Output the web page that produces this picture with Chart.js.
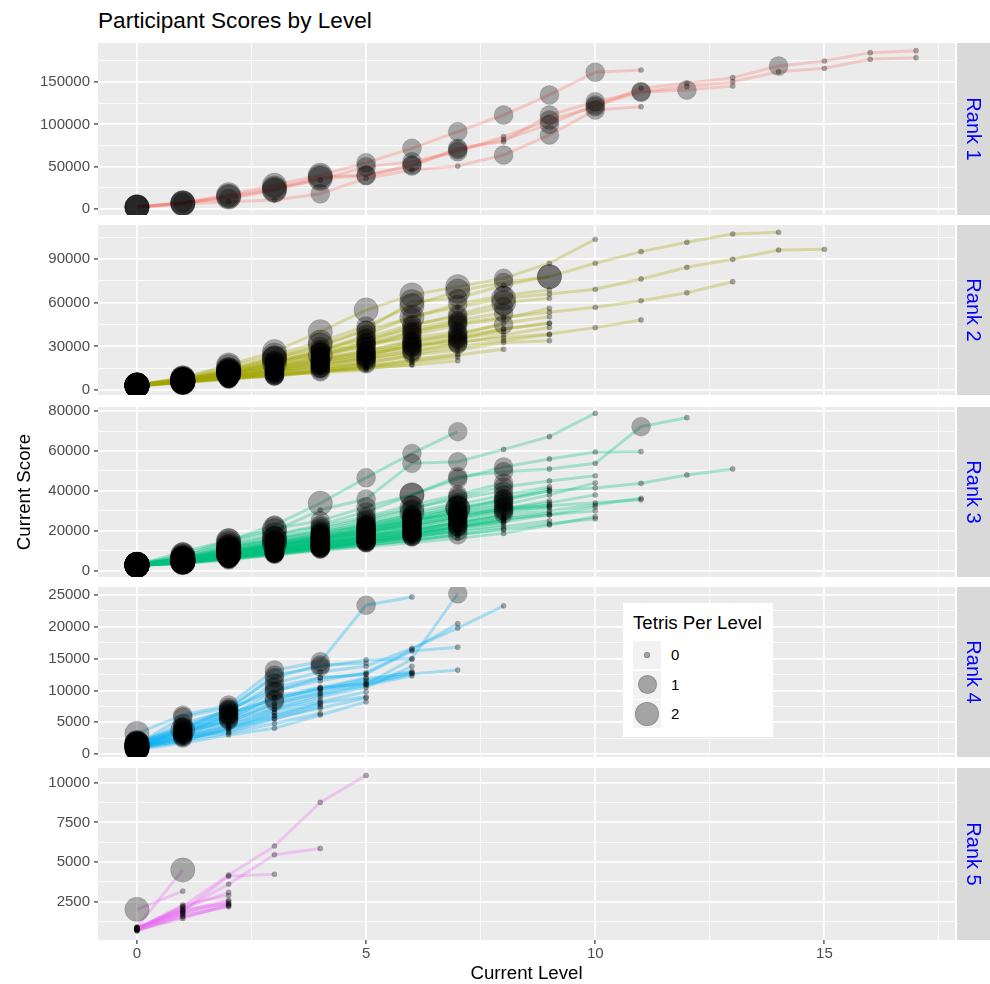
<!DOCTYPE html>
<html lang="en">
<head>
<meta charset="UTF-8">
<title>Participant Scores by Level</title>
<script src="https://cdn.jsdelivr.net/npm/chart.js"></script>
<style>
    body {
        margin: 0;
        background: #fff;
        overflow: hidden;
        font-family: "Liberation Sans", Arial, Helvetica, sans-serif;
    }
    #page { position: relative; width: 990px; height: 984px; }
    canvas { position: absolute; left: 0; }
    #title {
        position: absolute; left: 98px; top: 10px;
        font-size: 22.6px; line-height: 22.4px; color: #000;
    }
    #legend {
        position: absolute; left: 623px; top: 603px;
        width: 150px; height: 134px; background: #fff;
    }
    #legend .ltitle {
        position: absolute; left: 10px; top: 9px;
        font-size: 18.7px; line-height: 22px; color: #000;
    }
    #legend .key {
        position: absolute; left: 10px; width: 28px; height: 28px; background: #f2f2f2;
    }
    #legend .dot {
        position: absolute; border-radius: 50%;
        background: rgba(0, 0, 0, 0.32); border: 1px solid rgba(0, 0, 0, 0.15);
        box-sizing: border-box;
    }
    #legend .lab {
        position: absolute; left: 48px; font-size: 15px; line-height: 28px; color: #000;
    }
</style>
</head>
<body>
<div id="page">
    <div id="title">Participant Scores by Level</div>
    <canvas id="rank1"></canvas>
    <canvas id="rank2"></canvas>
    <canvas id="rank3"></canvas>
    <canvas id="rank4"></canvas>
    <canvas id="rank5"></canvas>
    <div id="legend"><div class="ltitle">Tetris Per Level</div></div>
</div>
<script>
// ---- data (score at each level, one row per participant) ----
const rankNames = ['Rank 1', 'Rank 2', 'Rank 3', 'Rank 4', 'Rank 5'];
const tetrisLevels = [0, 1, 2];
const xTickLabels = [0, 5, 10, 15];

const rank1Scores = [
    [2500, 7000, 17000, 28000, 40000, 54700, 71700, 91400, 111100, 134800, 161600, 164300],
    [2000, 6800, 15000, 25000, 34300, 50000, 55900, 67700, 85500, 105200, 120900, 142700, 148600, 155200, 169000, 174900, 184800, 187100],
    [2200, 7200, 14000, 23000, 38000, 40200, 50800, 71700, 79600, 111100, 126800, 138700, 144600, 150500, 162300, 166300, 176900, 178800],
    [1800, 5800, 8600, 10600, 18000, 36300, 46100, 50800, 63800, 87500, 117000, 120900],
    [2600, 7500, 12500, 22000, 36000, 39400, 52000, 70000, 82000, 100000, 123000, 138000, 140700, 145400]
];
const rank1Tetris = [
    [2, 2, 2, 2, 2, 1, 1, 1, 1, 1, 1, 0],
    [2, 2, 2, 2, 0, 1, 1, 1, 0, 1, 1, 0, 0, 0, 1, 0, 0, 0],
    [2, 1, 2, 2, 2, 1, 1, 1, 0, 1, 1, 1, 0, 0, 0, 0, 0, 0],
    [2, 2, 0, 0, 1, 0, 0, 0, 1, 1, 1, 0],
    [2, 2, 1, 2, 2, 1, 1, 1, 0, 1, 1, 1, 1, 0]
];

const rank2Scores = [
    [3400, 8300, 17200, 26400, 40100, 55000, 65400, 71100, 76800, 87200, 103700],
    [3200, 7000, 14000, 22000, 31000, 41300, 60800, 63100, 72000, 78000, 87200, 95200, 101600, 107300, 108500],
    [3000, 6500, 12000, 18400, 26000, 38000, 50400, 57000, 63100, 66000, 69300, 76400, 84400, 89900, 96300, 96800],
    [3300, 6000, 11500, 16000, 22900, 32100, 40000, 46000, 50000, 53500, 56900, 61400, 66900, 74500],
    [3100, 5700, 9000, 14000, 20000, 25000, 30000, 33000, 36000, 38500, 42900, 48200],
    [3500, 8300, 16000, 24000, 33000, 44000, 58000, 68000, 74000, 78000],
    [3200, 7500, 13500, 21000, 28000, 36000, 45000, 50400, 57300],
    [3000, 6800, 12500, 19000, 25000, 30000, 38000, 44700, 49000, 56200],
    [3300, 7000, 11000, 15500, 21000, 27000, 34000, 37800, 45900, 50400],
    [3400, 6200, 10500, 14500, 18600, 22900, 29000, 35000, 42000, 45900],
    [2900, 5700, 8300, 13000, 17000, 22000, 27000, 32000, 37800, 43000],
    [3100, 6000, 9500, 12500, 15000, 18000, 24100, 27500, 32600, 33900],
    [3000, 5500, 8300, 11000, 13000, 15000, 17200, 20200],
    [3300, 5900, 9000, 13800, 18600, 22900, 32300],
    [3400, 7000, 12000, 17000, 23000, 30000, 40000, 47000],
    [3200, 6500, 9000, 10500, 12000, 13800],
    [3000, 6000, 11000, 18400, 24000, 33000, 44000, 52000, 60000, 63100],
    [3300, 7600, 14000, 22000, 30000, 41000, 50000, 59000, 65000, 68800],
    [3100, 6800, 12500, 19000, 27000, 35000, 42000, 48000, 53000],
    [3400, 6000, 8000, 9500, 12500, 16000, 21000, 25000],
    [2800, 5200, 8000, 10000, 13500, 17500],
    [3200, 7200, 13000, 20000, 26000, 32000, 36000, 40000],
    [3100, 5400, 8000, 10800, 13500, 16500, 20000, 24000, 28000],
    [3300, 6300, 9800, 13200, 16800, 20500, 25000, 29500, 34000, 38000],
    [3000, 5800, 9200, 12200, 15200, 19000, 23000],
    [3200, 6600, 10800, 15000, 19500, 24500, 30000, 35000, 40000],
    [2900, 5300, 7800, 10200, 12800, 15800, 19000, 22500],
    [3400, 7200, 12000, 16500, 21500, 27000, 33000, 39000, 45000],
    [3100, 5600, 8600, 11800, 15000, 18500],
    [3000, 6000, 9500, 13000, 17000, 21500, 26500, 31500],
    [3300, 6800, 11000, 15500, 20500, 26000, 31500, 36500, 42000, 46000],
    [2800, 5000, 7400, 9800, 12300, 14800, 17500]
];
const rank2Tetris = [
    [2, 2, 2, 2, 2, 2, 2, 2, 1, 0, 0],
    [2, 2, 2, 2, 2, 1, 2, 1, 0, 2, 0, 0, 0, 0, 0],
    [2, 2, 2, 2, 1, 1, 1, 0, 2, 0, 0, 0, 0, 0, 0, 0],
    [2, 2, 2, 1, 1, 1, 1, 1, 0, 0, 0, 0, 0, 0],
    [2, 2, 1, 1, 1, 1, 1, 1, 0, 0, 0, 0],
    [2, 2, 2, 2, 2, 1, 2, 2, 1, 2],
    [2, 2, 2, 2, 1, 1, 1, 1, 1],
    [2, 2, 2, 1, 1, 1, 1, 1, 0, 0],
    [2, 2, 1, 1, 1, 1, 1, 1, 0, 0],
    [2, 2, 1, 1, 1, 1, 1, 1, 0, 0],
    [2, 2, 1, 1, 1, 1, 1, 1, 0, 0],
    [2, 2, 1, 1, 1, 1, 0, 0, 0, 0],
    [2, 2, 1, 1, 0, 0, 0, 0],
    [2, 2, 1, 1, 1, 1, 1],
    [2, 2, 2, 1, 1, 1, 1, 1],
    [2, 2, 1, 0, 0, 0],
    [2, 2, 2, 1, 2, 1, 1, 1, 2, 0],
    [2, 2, 2, 2, 1, 1, 2, 1, 1, 0],
    [2, 2, 2, 1, 1, 1, 1, 1, 1],
    [2, 2, 1, 1, 1, 0, 0, 0],
    [2, 2, 1, 1, 0, 0],
    [2, 2, 2, 1, 1, 1, 1, 1],
    [2, 2, 1, 1, 1, 0, 0, 0, 0],
    [2, 2, 1, 1, 1, 1, 1, 0, 0, 0],
    [2, 2, 1, 1, 1, 1, 0],
    [2, 2, 2, 1, 1, 1, 1, 1, 0],
    [2, 2, 1, 1, 0, 0, 0, 0],
    [2, 2, 2, 1, 1, 1, 1, 1, 1],
    [2, 2, 1, 1, 1, 0],
    [2, 2, 1, 1, 1, 1, 1, 1],
    [2, 2, 2, 1, 1, 1, 1, 1, 0, 0],
    [2, 2, 1, 1, 0, 0, 0]
];

const rank3Scores = [
    [2900, 9500, 15000, 22900, 33800, 46600, 58800, 69700],
    [3000, 7000, 14000, 20000, 30400, 35900, 53800, 54600, 60800, 67200, 78900],
    [2800, 6400, 12000, 17900, 22900, 29600, 37900, 47100, 49600, 51000, 53800, 72200, 76700],
    [3100, 5000, 9000, 13000, 16000, 20000, 25000, 31300, 36000, 40000, 41500, 43800, 48000, 51000],
    [2900, 8000, 15000, 21000, 25000, 32000, 38000, 46000, 52000, 56000, 59500, 59700],
    [2700, 4500, 8000, 11000, 14000, 17000, 20000, 24000, 27000, 30000, 33000, 36300],
    [3000, 5500, 10000, 14000, 18000, 22000, 26000, 28000, 31000, 32500, 34000, 35500],
    [2600, 4000, 6000, 8000, 10000, 12000, 14000, 16200, 18700, 22900, 27100],
    [3200, 6000, 11000, 16000, 20000, 25000, 31000, 37000, 42000, 45000, 47600],
    [2900, 5200, 9000, 12000, 15000, 19000, 23000, 27000, 31000, 34000, 38000],
    [2800, 4800, 8000, 11500, 14500, 18000, 22100, 26000, 30000, 33000],
    [3000, 6000, 10000, 14000, 17000, 21000, 27000, 31300, 35000, 40000],
    [2900, 5000, 8500, 12000, 16000, 20000, 24000, 29000, 33000, 38000, 44000],
    [2700, 4200, 7000, 9500, 12000, 15000, 18000, 22000, 26000, 28000, 30000],
    [3100, 5500, 9500, 14000, 18000, 23000, 28000, 33000, 38000, 42000],
    [3000, 6400, 12000, 16000, 21000, 26000, 31400, 36000, 40000],
    [2800, 4000, 7000, 10000, 13000, 16200, 20000, 24000, 28000],
    [2900, 5000, 8000, 11000, 14000, 17000, 22000, 26000, 30000, 32000],
    [2700, 4500, 7500, 10500, 13000, 16000, 19000, 22000, 25000],
    [3000, 5800, 10000, 13000, 17000, 21000, 25000, 28000, 32000],
    [2600, 3800, 6000, 8500, 11000, 13000, 15000, 18000, 21000],
    [2900, 5000, 9000, 13000, 16000, 19000, 23000, 27000],
    [2800, 4500, 7000, 9000, 11400, 14000, 17000, 20000],
    [3100, 6000, 11000, 15000, 19000, 24000, 29000, 34000],
    [2700, 4000, 6500, 9000, 12000, 14500, 17500],
    [2900, 5500, 9000, 12500, 16500, 20500, 25000],
    [3200, 7500, 13000, 18000, 22000, 27000, 33000, 38000, 44000],
    [2800, 4800, 7800, 10500, 13500, 16000],
    [2600, 3500, 5400, 7800, 11000, 13700],
    [3000, 5200, 8500, 12000, 15500, 19000, 24000, 30000, 36000, 41000],
    [2900, 6200, 11500, 15500, 19500, 23000, 28000],
    [2700, 4300, 7200, 10000, 12500, 15000, 18500, 21500, 24000],
    [2900, 4200, 6800, 9200, 11800, 14200, 17000, 19500, 22000, 25000],
    [3000, 4600, 7600, 10200, 13200, 16000, 19200, 22500, 26000],
    [2800, 3900, 6200, 8600, 10800, 13000, 15500, 17800],
    [3100, 5100, 8200, 11200, 14200, 17500, 21000, 24500, 28500, 31500],
    [2700, 4400, 6900, 9600, 12400, 15200, 18300, 21000],
    [2900, 5300, 8800, 12300, 15800, 19500, 23500],
    [3000, 3700, 5800, 8200, 10500, 12800, 15200, 18000, 20500, 23500, 26000],
    [2800, 4700, 7400, 10300, 13300, 16500, 20000, 23500, 27500],
    [3100, 5700, 9300, 13200, 17200, 21500, 26000, 30500],
    [2600, 4100, 6600, 9100, 11600, 14000, 16800, 19800, 23000],
    [2900, 4900, 7900, 11000, 14200, 17600, 21200],
    [3000, 5400, 8700, 12100, 15600, 19200, 23000, 27000, 31000, 35000],
    [2700, 3900, 6300, 8800, 11300, 13800, 16400],
    [3200, 6100, 10200, 14200, 18300, 22500, 27000, 32000],
    [2800, 4400, 7100, 9900, 12800, 15700, 18800, 22000, 25500, 29000],
    [2900, 5000, 8100, 11400, 14800, 18300],
    [3000, 4300, 6900, 9500, 12200, 15000, 18000, 21200, 24500, 28000, 32000],
    [2700, 4600, 7500, 10600, 13700, 17000, 20500, 24000],
    [3100, 5600, 9100, 12800, 16600, 20700, 25000, 29500, 34000],
    [2800, 4100, 6500, 9000, 11500, 14100, 16900, 19900]
];
const rank3Tetris = [
    [2, 1, 2, 1, 2, 1, 1, 1],
    [2, 2, 2, 2, 0, 1, 1, 1, 0, 0, 0],
    [2, 2, 2, 1, 1, 1, 2, 1, 1, 0, 0, 1, 0],
    [2, 2, 2, 1, 1, 1, 1, 2, 1, 0, 0, 0, 0, 0],
    [2, 2, 2, 2, 1, 1, 2, 1, 1, 0, 0, 0],
    [2, 2, 2, 1, 1, 1, 0, 0, 0, 0, 0, 0],
    [2, 2, 2, 1, 1, 1, 1, 0, 0, 0, 0, 0],
    [2, 1, 1, 0, 0, 0, 0, 0, 0, 0, 0],
    [2, 2, 2, 2, 1, 1, 1, 1, 1, 0, 0],
    [2, 2, 1, 1, 1, 1, 1, 1, 0, 0, 0],
    [2, 2, 2, 1, 1, 1, 1, 1, 1, 0],
    [2, 2, 2, 1, 1, 1, 1, 2, 1, 0],
    [2, 2, 2, 1, 1, 1, 1, 1, 1, 0, 0],
    [2, 1, 1, 1, 1, 1, 0, 0, 0, 0, 0],
    [2, 2, 2, 1, 1, 1, 1, 1, 1, 0],
    [2, 2, 2, 2, 1, 1, 2, 1, 1],
    [2, 2, 1, 1, 1, 0, 0, 1, 0],
    [2, 2, 2, 1, 1, 1, 1, 1, 1, 0],
    [2, 2, 1, 1, 1, 1, 1, 1, 0],
    [2, 2, 2, 1, 1, 1, 1, 1, 1],
    [2, 1, 1, 1, 0, 0, 0, 0, 0],
    [2, 2, 2, 1, 1, 1, 1, 1],
    [2, 2, 1, 1, 1, 1, 1, 1],
    [2, 2, 2, 1, 1, 1, 2, 1],
    [2, 1, 1, 1, 1, 1, 1],
    [2, 2, 2, 1, 1, 1, 1],
    [2, 2, 2, 2, 1, 1, 1, 1, 1],
    [2, 2, 1, 1, 1, 1],
    [2, 1, 1, 0, 1, 0],
    [2, 2, 2, 1, 1, 1, 1, 1, 1, 0],
    [2, 2, 2, 1, 1, 1, 1],
    [2, 2, 1, 1, 1, 1, 0, 0, 0],
    [2, 2, 1, 1, 1, 1, 1, 0, 0, 0],
    [2, 2, 2, 1, 1, 1, 1, 1, 0],
    [2, 1, 1, 1, 1, 0, 0, 0],
    [2, 2, 2, 1, 1, 1, 1, 1, 1, 0],
    [2, 2, 1, 1, 1, 1, 1, 0],
    [2, 2, 2, 1, 1, 1, 1],
    [2, 1, 1, 1, 0, 0, 0, 1, 0, 0, 0],
    [2, 2, 1, 1, 1, 1, 1, 1, 0],
    [2, 2, 2, 2, 1, 1, 1, 1],
    [2, 1, 1, 1, 1, 0, 0, 0, 0],
    [2, 2, 1, 1, 1, 1, 1],
    [2, 2, 2, 1, 1, 1, 1, 1, 1, 0],
    [2, 1, 1, 1, 1, 0, 0],
    [2, 2, 2, 2, 1, 1, 1, 1],
    [2, 2, 1, 1, 1, 1, 1, 1, 0, 0],
    [2, 2, 1, 1, 1, 1],
    [2, 1, 1, 1, 1, 1, 1, 0, 0, 0, 0],
    [2, 2, 1, 1, 1, 1, 1, 0],
    [2, 2, 2, 1, 1, 1, 1, 1, 1],
    [2, 1, 1, 1, 1, 1, 0, 0]
];

const rank4Scores = [
    [3250, 6100, 7700, 13200, 14500, 23400, 24700],
    [1700, 4300, 7000, 12400, 13700, 14800, 15000, 25200],
    [1500, 3800, 6650, 11150, 12900, 13800, 16600, 19800, 23300],
    [1200, 3500, 6000, 9800, 12000, 12600, 16200, 16800],
    [1000, 3000, 5500, 9000, 10500, 11000, 12600, 13200],
    [1300, 4000, 7000, 10000, 11500, 12800, 16400, 20500],
    [1100, 3000, 5000, 8000, 9500, 11000, 14900],
    [900, 2500, 4500, 7000, 9000, 10500, 13800],
    [800, 2000, 4000, 6000, 8000, 9000],
    [1500, 5800, 7300, 12000, 14000, 14300],
    [700, 1700, 3000, 4040, 6130, 8200],
    [1200, 3500, 5000, 7000, 8500],
    [1000, 2500, 3500, 5500, 7500],
    [900, 2200, 4000, 6500],
    [1600, 4800, 6800, 10500, 12000, 12500],
    [1400, 3200, 6200, 8800, 10200, 11800, 12800],
    [1300, 2800, 4500, 6500, 8200, 9800],
    [1600, 3600, 5600, 7800, 9800, 11500, 13000],
    [1100, 2400, 3800, 5600, 7200, 8800],
    [1800, 4200, 6400, 8600, 10400, 12000],
    [1000, 2100, 3300, 4800, 6400],
    [1500, 3400, 5300, 7400, 9300, 10800, 12300],
    [1200, 2700, 4200, 6000, 7800],
    [1700, 3900, 6000, 8300, 10200, 11200, 12700]
];
const rank4Tetris = [
    [2, 1, 1, 1, 1, 1, 0],
    [2, 1, 1, 1, 1, 0, 0, 1],
    [2, 2, 1, 1, 0, 0, 0, 0, 0],
    [2, 1, 1, 1, 0, 0, 0, 0],
    [2, 1, 1, 0, 0, 0, 0, 0],
    [2, 1, 1, 1, 0, 0, 0, 0],
    [2, 1, 0, 0, 0, 0, 0],
    [2, 1, 0, 0, 0, 0, 0],
    [2, 0, 0, 0, 0, 0],
    [2, 1, 1, 1, 1, 0],
    [2, 0, 0, 0, 0, 0],
    [2, 1, 0, 0, 0],
    [2, 0, 0, 0, 0],
    [2, 0, 0, 0],
    [2, 1, 1, 1, 0, 0],
    [2, 1, 1, 0, 0, 0, 0],
    [2, 1, 0, 0, 0, 0],
    [2, 1, 1, 0, 0, 0, 0],
    [2, 0, 0, 0, 0, 0],
    [2, 1, 1, 1, 0, 0],
    [2, 0, 0, 0, 0],
    [2, 1, 1, 0, 0, 0, 0],
    [2, 1, 0, 0, 0],
    [2, 1, 1, 1, 0, 0, 0]
];

const rank5Scores = [
    [800, 2200, 4180, 6010, 8760, 10460],
    [700, 2000, 3610, 5460, 5860],
    [2020, 3170],
    [900, 4500],
    [850, 1900, 4100, 4230],
    [800, 1800, 2500],
    [750, 1600, 2190],
    [850, 2100, 3090],
    [700, 1450, 2300],
    [800, 2000, 2400],
    [650, 1700],
    [900, 1900, 2600],
    [780, 2300, 2900],
    [720, 1550, 2250],
    [830, 1750, 2350],
    [760, 2200]
];
const rank5Tetris = [
    [0, 0, 0, 0, 0, 0],
    [0, 0, 0, 0, 0],
    [2, 0],
    [0, 2],
    [0, 0, 0, 0],
    [0, 0, 0],
    [0, 0, 0],
    [0, 0, 0],
    [0, 0, 0],
    [0, 0, 0],
    [0, 0],
    [0, 0, 0],
    [0, 0, 0],
    [0, 0, 0],
    [0, 0, 0],
    [0, 0]
];

// ---- layout / styling ----
const allScores = [rank1Scores, rank2Scores, rank3Scores, rank4Scores, rank5Scores];
const allTetris = [rank1Tetris, rank2Tetris, rank3Tetris, rank4Tetris, rank5Tetris];
const rankColors = ['#F8766D', '#A3A500', '#00BF7D', '#00B0F6', '#E76BF3'];
const panelTop = [43, 225, 407, 587, 768];
const panelBottom = [215, 395, 577, 757, 940];
// y ranges include ggplot's 5% expansion; step = minor grid spacing
const yAxes = [
    { min: -7100, max: 196200, step: 25000 },
    { min: -3440, max: 113500, step: 15000 },
    { min: -3160, max: 82050, step: 10000 },
    { min: -470, max: 26260, step: 2500 },
    { min: 88, max: 10925, step: 1250 }
];
const M = 14;          // extra canvas margin above/below each panel
const pageH = 984;
const radiusFor = t => [2.6, 9.5, 12.2][t];

Chart.defaults.font.family = '"Liberation Sans", Arial, Helvetica, sans-serif';

function rgba(hex, a) {
    const n = parseInt(hex.slice(1), 16);
    return `rgba(${(n >> 16) & 255}, ${(n >> 8) & 255}, ${n & 255}, ${a})`;
}

function stepTicks(min, max, step) {
    const out = [];
    for (let v = Math.ceil(min / step) * step; v <= max; v += step) out.push({ value: v });
    return out;
}

const isMajor = (v, step) => Math.abs(v / (2 * step) - Math.round(v / (2 * step))) < 1e-6;

const panelPlugin = {
    id: 'panel',
    beforeDraw(chart) {
        const { ctx, chartArea: a } = chart;
        ctx.save();
        ctx.fillStyle = '#EBEBEB';
        ctx.fillRect(a.left, a.top, a.right - a.left, a.bottom - a.top);
        ctx.restore();
    },
    afterDraw(chart, args, opts) {
        const { ctx, chartArea: a } = chart;
        const x0 = a.right + 2;
        ctx.save();
        ctx.fillStyle = '#D9D9D9';
        ctx.fillRect(x0, a.top, chart.width - x0, a.bottom - a.top);
        ctx.translate(x0 + 16, (a.top + a.bottom) / 2);
        ctx.rotate(Math.PI / 2);
        ctx.fillStyle = '#0000FF';
        ctx.font = '20px "Liberation Sans", Arial, sans-serif';
        ctx.textAlign = 'center';
        ctx.textBaseline = 'middle';
        ctx.fillText(opts.label, 0, 0);
        ctx.restore();
    }
};

function makePanel(i) {
    const canvas = document.getElementById('rank' + (i + 1));
    const last = i === 4;
    const top = panelTop[i] - M;
    const height = last ? pageH - top : panelBottom[i] - panelTop[i] + 2 * M;
    canvas.width = 990;
    canvas.height = height;
    canvas.style.top = top + 'px';

    const scores = allScores[i];
    const tetris = allTetris[i];
    const lineSets = scores.map(s => ({
        data: s.map((v, lvl) => ({ x: lvl, y: v })),
        borderColor: rgba(rankColors[i], 0.3),
        borderWidth: 3,
        pointRadius: 0,
        tension: 0,
        order: 2
    }));
    const pointSet = {
        data: scores.flatMap((s, p) => s.map((v, lvl) => ({ x: lvl, y: v, t: tetris[p][lvl] }))),
        showLine: false,
        backgroundColor: 'rgba(0, 0, 0, 0.3)',
        borderColor: 'rgba(0, 0, 0, 0.12)',
        borderWidth: 1,
        pointRadius: ctx => radiusFor(ctx.raw.t),
        order: 1
    };

    const ya = yAxes[i];
    const xStep = 2.5;
    new Chart(canvas, {
        type: 'line',
        data: { datasets: [pointSet, ...lineSets] },
        plugins: [panelPlugin],
        options: {
            responsive: false,
            animation: false,
            events: [],
            layout: { padding: { left: 0, right: 35, top: M, bottom: last ? 0 : M } },
            plugins: {
                legend: { display: false },
                tooltip: { enabled: false },
                panel: { label: rankNames[i] }
            },
            scales: {
                x: {
                    type: 'linear',
                    min: -0.85,
                    max: 17.85,
                    bounds: 'data',
                    border: { display: false },
                    afterBuildTicks: s => { s.ticks = stepTicks(-0.85, 17.85, xStep); },
                    afterFit: s => { s.height = last ? pageH - panelBottom[4] : 0; },
                    grid: {
                        color: '#FFFFFF',
                        lineWidth: c => isMajor(c.tick.value, xStep) ? 1.8 : 0.8,
                        drawTicks: last,
                        tickLength: 4,
                        tickWidth: 1.2,
                        tickColor: c => isMajor(c.tick.value, xStep) ? '#333333' : 'rgba(0,0,0,0)'
                    },
                    ticks: {
                        display: last,
                        padding: 1,
                        color: '#4D4D4D',
                        font: { size: 15 },
                        maxRotation: 0,
                        autoSkip: false,
                        callback: v => xTickLabels.includes(v) ? String(v) : ''
                    },
                    title: {
                        display: last,
                        text: 'Current Level',
                        color: '#000',
                        font: { size: 18.7, lineHeight: 1 },
                        padding: { top: 0, bottom: 0.6 }
                    }
                },
                y: {
                    type: 'linear',
                    min: ya.min,
                    max: ya.max,
                    bounds: 'data',
                    border: { display: false },
                    afterBuildTicks: s => { s.ticks = stepTicks(ya.min, ya.max, ya.step); },
                    afterFit: s => { s.width = 98; },
                    grid: {
                        color: '#FFFFFF',
                        lineWidth: c => isMajor(c.tick.value, ya.step) ? 1.8 : 0.8,
                        tickLength: 4,
                        tickWidth: 1.2,
                        tickColor: c => isMajor(c.tick.value, ya.step) ? '#333333' : 'rgba(0,0,0,0)'
                    },
                    ticks: {
                        padding: 4,
                        color: '#4D4D4D',
                        font: { size: 15 },
                        autoSkip: false,
                        callback: v => isMajor(v, ya.step) ? String(v) : ''
                    },
                    title: {
                        display: i === 2,
                        text: 'Current Score',
                        color: '#000',
                        font: { size: 18.7 },
                        padding: { top: 13.5, bottom: 0 }
                    }
                }
            }
        }
    });
}

for (let i = 0; i < 5; i++) makePanel(i);

// legend for point size (tetris per level)
const legend = document.getElementById('legend');
tetrisLevels.forEach((t, k) => {
    const rowTop = 38 + k * 29.5;
    const key = document.createElement('div');
    key.className = 'key';
    key.style.top = rowTop + 'px';
    const dot = document.createElement('div');
    dot.className = 'dot';
    const d = radiusFor(t) * 2;
    dot.style.width = d + 'px';
    dot.style.height = d + 'px';
    dot.style.left = (14 - d / 2) + 'px';
    dot.style.top = (14 - d / 2) + 'px';
    key.appendChild(dot);
    legend.appendChild(key);
    const lab = document.createElement('div');
    lab.className = 'lab';
    lab.style.top = rowTop + 'px';
    lab.textContent = String(t);
    legend.appendChild(lab);
});
</script>
</body>
</html>
